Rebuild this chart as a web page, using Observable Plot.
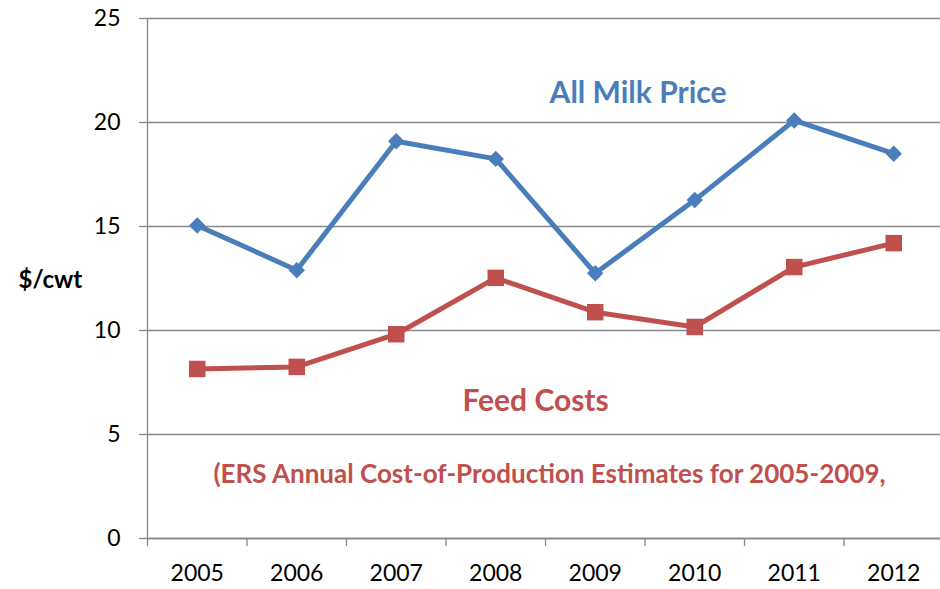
<!DOCTYPE html>
<html>
<head>
<meta charset="utf-8">
<script src="https://cdn.jsdelivr.net/npm/d3@7"></script>
<script src="https://cdn.jsdelivr.net/npm/@observablehq/plot@0.6"></script>
<style>
  html, body { margin: 0; padding: 0; background: #fff; }
  #chart svg { display: block; }
</style>
</head>
<body>
<div id="chart"></div>
<script>
const years = [2005, 2006, 2007, 2008, 2009, 2010, 2011, 2012];
const milkPrice = [15.05, 12.9, 19.1, 18.25, 12.75, 16.27, 20.1, 18.5];
const feedCosts = [8.15, 8.25, 9.82, 12.53, 10.88, 10.17, 13.05, 14.2];
const yTicks = [0, 5, 10, 15, 20, 25];
const yLabel = "$/cwt";
const seriesLabels = [
  {text: "All Milk Price", x: 2009.43, y: 21.4, color: "#4A7EBB"},
  {text: "Feed Costs", x: 2008.4, y: 6.6, color: "#C0504D"}
];
const noteLabels = [
  {text: "(ERS Annual Cost-of-Production Estimates for 2005-2009,", x: 2005.163, y: 3.05, color: "#C0504D"}
];

const milk = years.map((year, i) => ({year, value: milkPrice[i]}));
const feed = years.map((year, i) => ({year, value: feedCosts[i]}));
const boundaries = years.map(y => y - 0.5);

const BLUE = "#4A7EBB", RED = "#C0504D", GRID = "#888888";
const FONT = "Lato, 'Open Sans', sans-serif";

const chart = Plot.plot({
  width: 940,
  height: 589,
  marginLeft: 147,
  marginRight: 0,
  marginTop: 18,
  marginBottom: 51,
  style: {fontFamily: FONT, fontSize: "22px", color: "#000", background: "#fff"},
  x: {domain: [2004.5, 2012.5], range: [147, 943]},
  y: {domain: [0, 25]},
  marks: [
    Plot.gridY(yTicks, {stroke: GRID, strokeOpacity: 1, strokeWidth: 1.3}),
    Plot.axisY(yTicks, {tickSize: 8, tickPadding: 19, stroke: GRID, strokeWidth: 1.3, fill: "#000", fontSize: 23, label: null}),
    Plot.axisX(years, {tickSize: 0, tickPadding: 26, fontSize: 23, fill: "#000", tickFormat: d => String(d), label: null}),
    Plot.ruleX(boundaries, {x: d => d, y1: 0, y2: -0.39, stroke: GRID, strokeWidth: 1.3}),
    Plot.ruleY([0], {stroke: GRID, strokeWidth: 1.3}),
    Plot.ruleX([2004.5], {stroke: GRID, strokeWidth: 1.3}),
    Plot.line(milk, {x: "year", y: "value", stroke: BLUE, strokeWidth: 5}),
    Plot.dot(milk, {x: "year", y: "value", symbol: "diamond2", r: 7.4, fill: BLUE, stroke: "none"}),
    Plot.line(feed, {x: "year", y: "value", stroke: RED, strokeWidth: 5}),
    Plot.dot(feed, {x: "year", y: "value", symbol: "square", r: 9.3, fill: RED, stroke: "none"}),
    Plot.text(seriesLabels, {x: "x", y: "y", text: "text", fill: "color", fontSize: 30, fontWeight: "bold",
      textAnchor: "middle", lineAnchor: "middle"}),
    Plot.text(noteLabels, {x: "x", y: "y", text: "text", fill: "color", fontSize: 26, fontWeight: "bold",
      textAnchor: "start", lineAnchor: "middle"}),
    Plot.text([yLabel], {frameAnchor: "left", dx: -129, dy: 2, text: d => d, fontWeight: "bold", fontSize: 24, textAnchor: "start", fill: "#000"})
  ]
});
document.getElementById("chart").appendChild(chart);
</script>
</body>
</html>
